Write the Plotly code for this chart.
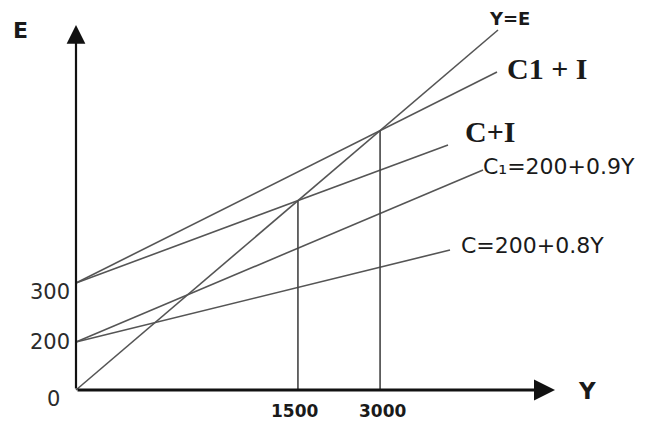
import plotly.graph_objects as go

# sketch is not to scale: values are in drawing units, ticks carry the economic labels
line_names = ["Y=E", "C1 + I", "C+I", "C₁=200+0.9Y", "C=200+0.8Y"]
intercepts = [0, 107, 107, 48, 48]
end_x = [422, 421, 372, 407, 374]
end_y = [360, 318, 245, 220, 140]

x_tick_pos = [218, 306]
x_tick_text = ["1500", "3000"]
y_tick_pos = [98, 48, -9]
y_tick_text = ["300", "200", "0"]

line_color = "#555555"
text_color = "#1a1a1a"

fig = go.Figure()

for name, b, x1, y1 in zip(line_names, intercepts, end_x, end_y):
    fig.add_trace(go.Scatter(x=[0, x1], y=[b, y1], mode="lines", name=name,
                             line=dict(color=line_color, width=1.6),
                             showlegend=False, hoverinfo="skip"))

# equilibrium drops: where Y=E meets the C+I and C1+I lines
slope_ye = end_y[0] / end_x[0]
for k in [2, 1]:
    s = (end_y[k] - intercepts[k]) / end_x[k]
    xe = intercepts[k] / (slope_ye - s)
    fig.add_trace(go.Scatter(x=[xe, xe], y=[0, slope_ye * xe], mode="lines",
                             line=dict(color="#444444", width=1.6),
                             showlegend=False, hoverinfo="skip"))

# axes with arrows
fig.add_annotation(x=0, y=365, ax=0, ay=0, xref="x", yref="y", axref="x", ayref="y",
                   showarrow=True, arrowhead=2, arrowsize=1.7, arrowwidth=2.2,
                   arrowcolor="#111111", text="")
fig.add_annotation(x=479, y=0, ax=0, ay=0, xref="x", yref="y", axref="x", ayref="y",
                   showarrow=True, arrowhead=2, arrowsize=1.5, arrowwidth=2.8,
                   arrowcolor="#111111", text="")

sans = "DejaVu Sans, sans-serif"
serif = "Liberation Serif, Times New Roman, serif"

for xv, t in zip(x_tick_pos, x_tick_text):
    fig.add_annotation(x=xv, y=-21, text="<b>" + t + "</b>", showarrow=False,
                       font=dict(family=sans, size=17, color=text_color))
for yv, t in zip(y_tick_pos, y_tick_text):
    fig.add_annotation(x=-4 if t != "0" else -14, y=yv, text=t, showarrow=False,
                       xanchor="right", font=dict(family=sans, size=21, color="#2b2b2b"))

fig.add_annotation(x=-56, y=360, text="<b>E</b>", showarrow=False,
                   font=dict(family=sans, size=22, color=text_color))
fig.add_annotation(x=511, y=-1, text="<b>Y</b>", showarrow=False,
                   font=dict(family=sans, size=23, color=text_color))

# line labels
fig.add_annotation(x=end_x[0] + 11, y=end_y[0] + 12, text="<b>Y=E</b>", showarrow=False,
                   font=dict(family=sans, size=18, color=text_color))
fig.add_annotation(x=end_x[1] + 8, y=end_y[1] + 4, text="<b>C1 + I</b>", showarrow=False,
                   xanchor="left", font=dict(family=serif, size=30, color=text_color))
fig.add_annotation(x=end_x[2] + 15, y=end_y[2] + 14, text="<b>C+I</b>", showarrow=False,
                   xanchor="left", font=dict(family=serif, size=30, color=text_color))
fig.add_annotation(x=end_x[3] - 2, y=end_y[3] + 4, text=line_names[3], showarrow=False,
                   xanchor="left", font=dict(family=sans, size=22, color=text_color))
fig.add_annotation(x=end_x[4] + 9, y=end_y[4] + 5, text=line_names[4], showarrow=False,
                   xanchor="left", font=dict(family=sans, size=22, color=text_color))

# ranges offset for the page's 8px body margin
fig.update_xaxes(range=[-68, 577], visible=False)
fig.update_yaxes(range=[-48, 382], visible=False)
fig.update_layout(width=645, height=430, margin=dict(l=0, r=0, t=0, b=0),
                  plot_bgcolor="white", paper_bgcolor="white")

fig.write_html("out.html")
